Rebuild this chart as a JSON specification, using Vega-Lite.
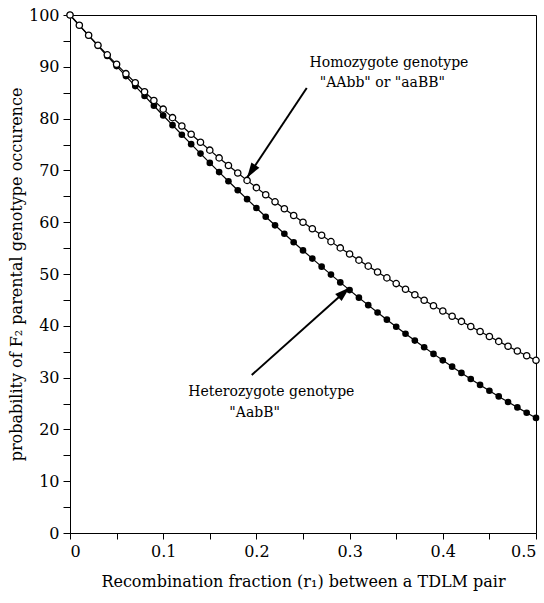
{
  "$schema": "https://vega.github.io/schema/vega-lite/v6.json",
  "autosize": "none",
  "width": 466,
  "height": 518,
  "padding": {"left": 70, "top": 15, "right": 8, "bottom": 70},
  "background": "white",
  "config": {
    "view": {"stroke": "black", "strokeWidth": 1},
    "font": "DejaVu Serif",
    "axis": {
      "grid": false,
      "domainColor": "black",
      "tickColor": "black",
      "labelColor": "black",
      "titleColor": "black",
      "labelFont": "DejaVu Serif",
      "titleFont": "DejaVu Serif",
      "labelFontSize": 16,
      "titleFontSize": 16,
      "titleFontWeight": "normal"
    }
  },
  "datasets": {
    "curves": [
      {"r": 0.00, "series": "Heterozygote", "p": 100.00},
      {"r": 0.01, "series": "Heterozygote", "p": 98.00},
      {"r": 0.02, "series": "Heterozygote", "p": 96.02},
      {"r": 0.03, "series": "Heterozygote", "p": 94.05},
      {"r": 0.04, "series": "Heterozygote", "p": 92.09},
      {"r": 0.05, "series": "Heterozygote", "p": 90.14},
      {"r": 0.06, "series": "Heterozygote", "p": 88.20},
      {"r": 0.07, "series": "Heterozygote", "p": 86.28},
      {"r": 0.08, "series": "Heterozygote", "p": 84.37},
      {"r": 0.09, "series": "Heterozygote", "p": 82.48},
      {"r": 0.10, "series": "Heterozygote", "p": 80.60},
      {"r": 0.11, "series": "Heterozygote", "p": 78.73},
      {"r": 0.12, "series": "Heterozygote", "p": 76.89},
      {"r": 0.13, "series": "Heterozygote", "p": 75.06},
      {"r": 0.14, "series": "Heterozygote", "p": 73.24},
      {"r": 0.15, "series": "Heterozygote", "p": 71.45},
      {"r": 0.16, "series": "Heterozygote", "p": 69.67},
      {"r": 0.17, "series": "Heterozygote", "p": 67.91},
      {"r": 0.18, "series": "Heterozygote", "p": 66.17},
      {"r": 0.19, "series": "Heterozygote", "p": 64.45},
      {"r": 0.20, "series": "Heterozygote", "p": 62.75},
      {"r": 0.21, "series": "Heterozygote", "p": 61.06},
      {"r": 0.22, "series": "Heterozygote", "p": 59.40},
      {"r": 0.23, "series": "Heterozygote", "p": 57.76},
      {"r": 0.24, "series": "Heterozygote", "p": 56.14},
      {"r": 0.25, "series": "Heterozygote", "p": 54.55},
      {"r": 0.26, "series": "Heterozygote", "p": 52.97},
      {"r": 0.27, "series": "Heterozygote", "p": 51.42},
      {"r": 0.28, "series": "Heterozygote", "p": 49.88},
      {"r": 0.29, "series": "Heterozygote", "p": 48.38},
      {"r": 0.30, "series": "Heterozygote", "p": 46.89},
      {"r": 0.31, "series": "Heterozygote", "p": 45.43},
      {"r": 0.32, "series": "Heterozygote", "p": 43.99},
      {"r": 0.33, "series": "Heterozygote", "p": 42.57},
      {"r": 0.34, "series": "Heterozygote", "p": 41.18},
      {"r": 0.35, "series": "Heterozygote", "p": 39.81},
      {"r": 0.36, "series": "Heterozygote", "p": 38.47},
      {"r": 0.37, "series": "Heterozygote", "p": 37.15},
      {"r": 0.38, "series": "Heterozygote", "p": 35.85},
      {"r": 0.39, "series": "Heterozygote", "p": 34.58},
      {"r": 0.40, "series": "Heterozygote", "p": 33.33},
      {"r": 0.41, "series": "Heterozygote", "p": 32.11},
      {"r": 0.42, "series": "Heterozygote", "p": 30.91},
      {"r": 0.43, "series": "Heterozygote", "p": 29.74},
      {"r": 0.44, "series": "Heterozygote", "p": 28.59},
      {"r": 0.45, "series": "Heterozygote", "p": 27.47},
      {"r": 0.46, "series": "Heterozygote", "p": 26.37},
      {"r": 0.47, "series": "Heterozygote", "p": 25.30},
      {"r": 0.48, "series": "Heterozygote", "p": 24.25},
      {"r": 0.49, "series": "Heterozygote", "p": 23.22},
      {"r": 0.50, "series": "Heterozygote", "p": 22.22},
      {"r": 0.00, "series": "Homozygote", "p": 100.00},
      {"r": 0.01, "series": "Homozygote", "p": 98.02},
      {"r": 0.02, "series": "Homozygote", "p": 96.08},
      {"r": 0.03, "series": "Homozygote", "p": 94.17},
      {"r": 0.04, "series": "Homozygote", "p": 92.31},
      {"r": 0.05, "series": "Homozygote", "p": 90.48},
      {"r": 0.06, "series": "Homozygote", "p": 88.68},
      {"r": 0.07, "series": "Homozygote", "p": 86.92},
      {"r": 0.08, "series": "Homozygote", "p": 85.19},
      {"r": 0.09, "series": "Homozygote", "p": 83.49},
      {"r": 0.10, "series": "Homozygote", "p": 81.82},
      {"r": 0.11, "series": "Homozygote", "p": 80.18},
      {"r": 0.12, "series": "Homozygote", "p": 78.57},
      {"r": 0.13, "series": "Homozygote", "p": 76.99},
      {"r": 0.14, "series": "Homozygote", "p": 75.44},
      {"r": 0.15, "series": "Homozygote", "p": 73.91},
      {"r": 0.16, "series": "Homozygote", "p": 72.41},
      {"r": 0.17, "series": "Homozygote", "p": 70.94},
      {"r": 0.18, "series": "Homozygote", "p": 69.49},
      {"r": 0.19, "series": "Homozygote", "p": 68.07},
      {"r": 0.20, "series": "Homozygote", "p": 66.67},
      {"r": 0.21, "series": "Homozygote", "p": 65.29},
      {"r": 0.22, "series": "Homozygote", "p": 63.93},
      {"r": 0.23, "series": "Homozygote", "p": 62.60},
      {"r": 0.24, "series": "Homozygote", "p": 61.29},
      {"r": 0.25, "series": "Homozygote", "p": 60.00},
      {"r": 0.26, "series": "Homozygote", "p": 58.73},
      {"r": 0.27, "series": "Homozygote", "p": 57.48},
      {"r": 0.28, "series": "Homozygote", "p": 56.25},
      {"r": 0.29, "series": "Homozygote", "p": 55.04},
      {"r": 0.30, "series": "Homozygote", "p": 53.85},
      {"r": 0.31, "series": "Homozygote", "p": 52.67},
      {"r": 0.32, "series": "Homozygote", "p": 51.52},
      {"r": 0.33, "series": "Homozygote", "p": 50.38},
      {"r": 0.34, "series": "Homozygote", "p": 49.25},
      {"r": 0.35, "series": "Homozygote", "p": 48.15},
      {"r": 0.36, "series": "Homozygote", "p": 47.06},
      {"r": 0.37, "series": "Homozygote", "p": 45.99},
      {"r": 0.38, "series": "Homozygote", "p": 44.93},
      {"r": 0.39, "series": "Homozygote", "p": 43.88},
      {"r": 0.40, "series": "Homozygote", "p": 42.86},
      {"r": 0.41, "series": "Homozygote", "p": 41.84},
      {"r": 0.42, "series": "Homozygote", "p": 40.85},
      {"r": 0.43, "series": "Homozygote", "p": 39.86},
      {"r": 0.44, "series": "Homozygote", "p": 38.89},
      {"r": 0.45, "series": "Homozygote", "p": 37.93},
      {"r": 0.46, "series": "Homozygote", "p": 36.99},
      {"r": 0.47, "series": "Homozygote", "p": 36.05},
      {"r": 0.48, "series": "Homozygote", "p": 35.14},
      {"r": 0.49, "series": "Homozygote", "p": 34.23},
      {"r": 0.50, "series": "Homozygote", "p": 33.33}
    ],
    "arrows": [
      {"series": "Homozygote", "r": 0.254, "p": 85.9, "r2": 0.19, "p2": 68.6},
      {"series": "Heterozygote", "r": 0.195, "p": 30.5, "r2": 0.30, "p2": 47.4}
    ],
    "labels": [
      {"r": 0.257, "p": 90.8, "text": "Homozygote genotype"},
      {"r": 0.268, "p": 86.9, "text": "\"AAbb\" or \"aaBB\""},
      {"r": 0.127, "p": 27.2, "text": "Heterozygote genotype"},
      {"r": 0.171, "p": 23.2, "text": "\"AabB\""}
    ]
  },
  "encoding": {
    "x": {
      "field": "r",
      "type": "quantitative",
      "scale": {"domain": [0, 0.5], "nice": false, "zero": false},
      "axis": {
        "title": "Recombination fraction (r₁) between a TDLM pair",
        "values": [0, 0.05, 0.1, 0.15, 0.2, 0.25, 0.3, 0.35, 0.4, 0.45, 0.5],
        "labelExpr": "round(datum.value*100) % 10 === 0 ? format(datum.value, '.1~f') : ''",
        "tickSize": 6,
        "labelPadding": 4,
        "titlePadding": 14
      }
    },
    "y": {
      "field": "p",
      "type": "quantitative",
      "scale": {"domain": [0, 100], "nice": false},
      "axis": {
        "title": "probability of F₂ parental genotype occurence",
        "values": [0, 5, 10, 15, 20, 25, 30, 35, 40, 45, 50, 55, 60, 65, 70, 75, 80, 85, 90, 95, 100],
        "labelExpr": "round(datum.value) % 10 === 0 ? datum.label : ''",
        "tickSize": 7,
        "labelPadding": 4,
        "titlePadding": 4
      }
    }
  },
  "layer": [
    {
      "data": {"name": "curves"},
      "transform": [{"filter": "datum.series === 'Heterozygote'"}],
      "mark": {"type": "line", "color": "black", "strokeWidth": 1.2},
      "encoding": {}
    },
    {
      "data": {"name": "curves"},
      "transform": [{"filter": "datum.series === 'Heterozygote'"}],
      "mark": {"type": "point", "shape": "circle", "filled": true, "color": "black", "size": 44, "opacity": 1},
      "encoding": {}
    },
    {
      "data": {"name": "curves"},
      "transform": [{"filter": "datum.series === 'Homozygote'"}],
      "mark": {"type": "line", "color": "black", "strokeWidth": 1.2},
      "encoding": {}
    },
    {
      "data": {"name": "curves"},
      "transform": [{"filter": "datum.series === 'Homozygote'"}],
      "mark": {"type": "point", "shape": "circle", "filled": true, "fill": "white", "stroke": "black", "strokeWidth": 1.3, "size": 40, "opacity": 1},
      "encoding": {}
    },
    {
      "data": {"name": "arrows"},
      "mark": {"type": "rule", "color": "black", "strokeWidth": 2},
      "encoding": {
        "x2": {"field": "r2"},
        "y2": {"field": "p2"}
      }
    },
    {
      "data": {"name": "arrows"},
      "transform": [{"filter": "datum.series === 'Homozygote'"}],
      "mark": {"type": "point", "shape": "M0,0 L-0.32,1 L0.32,1 Z", "filled": true, "color": "black", "size": 900, "angle": 213.6, "opacity": 1},
      "encoding": {
        "x": {"field": "r2", "type": "quantitative"},
        "y": {"field": "p2", "type": "quantitative"}
      }
    },
    {
      "data": {"name": "arrows"},
      "transform": [{"filter": "datum.series === 'Heterozygote'"}],
      "mark": {"type": "point", "shape": "M0,0 L-0.32,1 L0.32,1 Z", "filled": true, "color": "black", "size": 900, "angle": 48.2, "opacity": 1},
      "encoding": {
        "x": {"field": "r2", "type": "quantitative"},
        "y": {"field": "p2", "type": "quantitative"}
      }
    },
    {
      "data": {"name": "labels"},
      "mark": {"type": "text", "align": "left", "baseline": "middle", "font": "DejaVu Serif", "fontSize": 14, "color": "black"},
      "encoding": {
        "text": {"field": "text"}
      }
    }
  ]
}
